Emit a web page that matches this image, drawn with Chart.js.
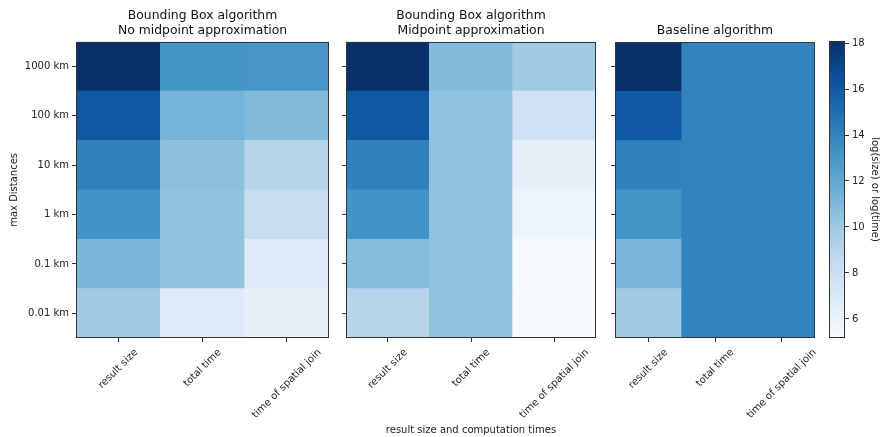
<!DOCTYPE html>
<html>
<head>
<meta charset="utf-8">
<script src="https://cdn.jsdelivr.net/npm/chart.js@4.4.1/dist/chart.umd.min.js"></script>
<style>
  html, body { margin: 0; padding: 0; background: #fff; }
  #wrap { position: relative; width: 881px; height: 437px; }
  .panel { position: absolute; top: 0; height: 437px; }
</style>
</head>
<body>
<div id="wrap">
  <div class="panel" style="left:0;width:332px"><canvas id="bbNoMid"></canvas></div>
  <div class="panel" style="left:336px;width:263px"><canvas id="bbMid"></canvas></div>
  <div class="panel" style="left:605px;width:213px"><canvas id="baseline"></canvas></div>
  <div class="panel" style="left:829px;width:52px"><canvas id="cbar"></canvas></div>
</div>
<script>
// rows go bottom -> top
const distances = ['0.01 km', '0.1 km', '1 km', '10 km', '100 km', '1000 km'];
const metrics = ['result size', 'total time', 'time of spatial join'];

// log(size) / log(time) per distance
const bbNoMidResult = [9.9, 11.1, 13.2, 14.1, 16.05, 18.09];
const bbNoMidTotal  = [6.85, 10.4, 10.4, 10.6, 11.3, 13.1];
const bbNoMidJoin   = [6.3, 6.85, 8.2, 9.0, 10.9, 13.0];

const bbMidResult = [9.0, 10.8, 13.2, 14.1, 16.05, 18.09];
const bbMidTotal  = [10.5, 10.5, 10.5, 10.5, 10.5, 10.9];
const bbMidJoin   = [5.17, 5.3, 5.8, 6.3, 7.8, 9.9];

const baseResult = [9.9, 11.1, 13.1, 14.1, 16.05, 18.09];
const baseTotal  = [14.0, 14.0, 14.0, 14.03, 14.0, 14.0];
const baseJoin   = [14.0, 14.0, 14.0, 14.03, 14.0, 14.0];

const cbarTicks = [6, 8, 10, 12, 14, 16, 18];

const allVals = [].concat(bbNoMidResult, bbNoMidTotal, bbNoMidJoin, bbMidResult, bbMidTotal, bbMidJoin,
                          baseResult, baseTotal, baseJoin);
const vmin = Math.min(...allVals);
const vmax = Math.max(...allVals);

// matplotlib "Blues"
const bluesStops = ['#f7fbff', '#deebf7', '#c6dbef', '#9ecae1', '#6baed6', '#4292c6', '#2171b5', '#08519c', '#08306b'];
function hexRgb(h) {
  return [parseInt(h.slice(1, 3), 16), parseInt(h.slice(3, 5), 16), parseInt(h.slice(5, 7), 16)];
}
function blues(t) {
  t = Math.max(0, Math.min(1, t));
  const pos = t * (bluesStops.length - 1);
  const i = Math.min(Math.floor(pos), bluesStops.length - 2);
  const f = pos - i;
  const a = hexRgb(bluesStops[i]), b = hexRgb(bluesStops[i + 1]);
  const c = a.map((v, k) => Math.round(v + (b[k] - v) * f));
  return 'rgb(' + c.join(',') + ')';
}
function colorFor(v) { return blues((v - vmin) / (vmax - vmin)); }

Chart.defaults.font.family = 'DejaVu Sans';
Chart.defaults.font.size = 10;
Chart.defaults.color = '#222';
Chart.defaults.animation = false;

const frame = {
  id: 'frame',
  afterDraw(chart) {
    const a = chart.chartArea, ctx = chart.ctx;
    ctx.save();
    ctx.strokeStyle = '#333';
    ctx.lineWidth = 1;
    ctx.strokeRect(Math.round(a.left) + 0.5, Math.round(a.top) + 0.5,
                   Math.round(a.right - a.left) - 1, Math.round(a.bottom - a.top) - 1);
    ctx.restore();
  }
};

// rotated x labels, centred under their tick like matplotlib does
const xLabels = {
  id: 'xLabels',
  afterDraw(chart) {
    const sx = chart.scales.x, ctx = chart.ctx;
    ctx.save();
    ctx.font = '10px "DejaVu Sans"';
    ctx.fillStyle = '#222';
    ctx.textAlign = 'center';
    ctx.textBaseline = 'middle';
    const c = Math.SQRT1_2;
    metrics.forEach((lab, i) => {
      const w = ctx.measureText(lab).width;
      const half = (w * c + 11 * c) / 2;
      const x = sx.getPixelForTick(i);
      const y = chart.chartArea.bottom + 9 + half;
      ctx.save();
      ctx.translate(x, y);
      ctx.rotate(-Math.PI / 4);
      ctx.fillText(lab, 0, 0);
      ctx.restore();
    });
    ctx.restore();
  }
};

function heatmap(id, title, titlePad, result, total, join, opts) {
  const cols = [result, total, join];
  const datasets = distances.map((d, i) => ({
    label: d,
    data: metrics.map(() => 1),
    backgroundColor: cols.map(col => colorFor(col[i])),
    borderWidth: 0,
    barPercentage: 1,
    categoryPercentage: 1
  }));
  return new Chart(document.getElementById(id), {
    type: 'bar',
    data: { labels: metrics, datasets },
    options: {
      responsive: true,
      maintainAspectRatio: false,
      layout: { padding: { right: 3 } },
      plugins: {
        legend: { display: false },
        tooltip: { enabled: false },
        title: {
          display: true,
          fullSize: false,
          text: title,
          color: '#111',
          font: { size: 12.4, weight: 'normal' },
          padding: titlePad
        }
      },
      scales: {
        x: {
          stacked: true,
          border: { display: false },
          grid: { offset: false, drawOnChartArea: false, drawTicks: true, tickLength: 4, color: '#333' },
          ticks: { display: false },
          title: opts.xTitle ? {
            display: true, text: opts.xTitle, color: '#222', padding: { top: 0, bottom: 1 }
          } : { display: false },
          afterFit(s) { s.height = 99; }
        },
        y: {
          stacked: true,
          min: 0,
          max: distances.length,
          border: { display: false },
          grid: { drawOnChartArea: false, drawTicks: true, tickLength: 4, color: '#333' },
          afterBuildTicks(s) { s.ticks = distances.map((d, i) => ({ value: i + 0.5 })); },
          ticks: {
            padding: 3,
            callback: v => opts.yLabels ? distances[Math.floor(v)] : ''
          },
          title: opts.yLabels ? {
            display: true, text: 'max Distances', color: '#222', padding: { top: 8, bottom: 0 }
          } : { display: false },
          afterFit(s) { s.width = opts.yWidth; }
        }
      }
    },
    plugins: [frame, xLabels]
  });
}

heatmap('bbNoMid', ['Bounding Box algorithm', 'No midpoint approximation'], { top: 8, bottom: 4 },
  bbNoMidResult, bbNoMidTotal, bbNoMidJoin, { yLabels: true, yWidth: 76 });
heatmap('bbMid', ['Bounding Box algorithm', 'Midpoint approximation'], { top: 8, bottom: 4 },
  bbMidResult, bbMidTotal, bbMidJoin, { yLabels: false, yWidth: 10, xTitle: 'result size and computation times' });
heatmap('baseline', 'Baseline algorithm', { top: 23, bottom: 4 },
  baseResult, baseTotal, baseJoin, { yLabels: false, yWidth: 10 });

// colour bar
new Chart(document.getElementById('cbar'), {
  type: 'bar',
  data: {
    labels: [''],
    datasets: [{
      data: [[vmin, vmax]],
      borderWidth: 0,
      barPercentage: 1,
      categoryPercentage: 1,
      backgroundColor(ctx) {
        const chart = ctx.chart, sy = chart.scales.y;
        const y0 = sy ? sy.getPixelForValue(vmin) : NaN;
        const y1 = sy ? sy.getPixelForValue(vmax) : NaN;
        if (!isFinite(y0) || !isFinite(y1)) return colorFor(vmax);
        const g = chart.ctx.createLinearGradient(0, y0, 0, y1);
        bluesStops.forEach((c, i) => g.addColorStop(i / (bluesStops.length - 1), c));
        return g;
      }
    }]
  },
  options: {
    responsive: true,
    maintainAspectRatio: false,
    layout: { padding: { top: 41, bottom: 99 } },
    plugins: { legend: { display: false }, tooltip: { enabled: false } },
    scales: {
      x: { display: false },
      y: {
        position: 'right',
        min: vmin,
        max: vmax,
        border: { display: false },
        grid: { drawOnChartArea: false, drawTicks: true, tickLength: 4, color: '#333' },
        afterBuildTicks(s) { s.ticks = cbarTicks.map(v => ({ value: v })); },
        ticks: { padding: 3 },
        title: { display: true, text: 'log(size) or log(time)', color: '#222', padding: { top: 0, bottom: 1 } },
        afterFit(s) { s.width = 36; }
      }
    }
  },
  plugins: [frame]
});
</script>
</body>
</html>
